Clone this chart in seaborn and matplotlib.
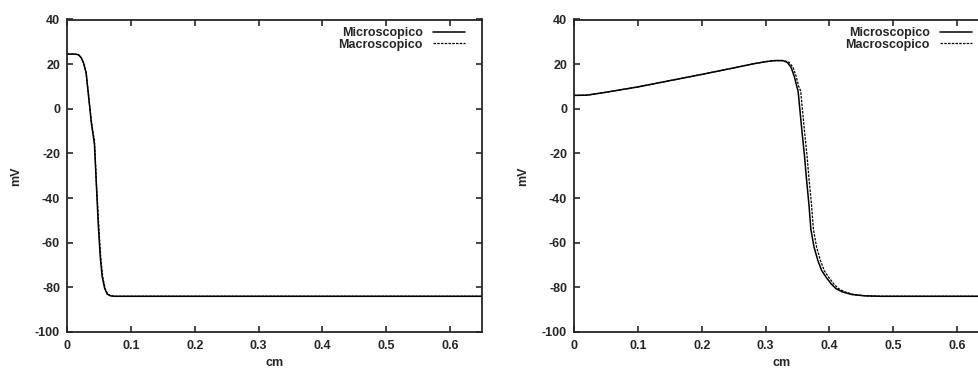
import numpy as np
import pandas as pd
import seaborn as sns
import matplotlib
matplotlib.use("Agg")
import matplotlib.pyplot as plt
from matplotlib.ticker import FixedLocator, FuncFormatter

# ---- data -------------------------------------------------------------
series_names = ["Microscopico", "Macroscopico"]

# left panel: membrane potential along the fibre (cm -> mV)
left_micro_x = [0.0, 0.012, 0.018, 0.022, 0.026, 0.030, 0.034, 0.038, 0.041, 0.043,
                0.045, 0.047, 0.049, 0.052, 0.055, 0.059, 0.063, 0.068, 0.075, 0.65]
left_micro_v = [24.5, 24.5, 24.2, 23.0, 20.5, 16.0, 5.0, -6.0, -12.0, -16.0,
                -28.0, -40.0, -52.0, -66.0, -75.0, -80.5, -83.0, -83.8, -84.0, -84.0]
left_macro_x = [0.0, 0.012, 0.018, 0.022, 0.026, 0.030, 0.034, 0.038, 0.041, 0.043,
                0.044, 0.046, 0.048, 0.050, 0.053, 0.056, 0.060, 0.064, 0.069, 0.076, 0.65]
left_macro_v = [24.5, 24.5, 24.2, 23.0, 20.5, 16.0, 5.5, -5.0, -11.0, -14.0,
                -20.0, -33.0, -43.0, -54.0, -67.0, -75.5, -80.8, -83.1, -83.8, -84.0, -84.0]

# right panel
right_micro_x = [0.0, 0.02, 0.05, 0.10, 0.15, 0.20, 0.25, 0.28, 0.30, 0.315, 0.327,
                 0.334, 0.340, 0.345, 0.349, 0.351, 0.354, 0.357, 0.361, 0.364, 0.368,
                 0.371, 0.376, 0.382, 0.388, 0.395, 0.403, 0.410, 0.420, 0.435, 0.455,
                 0.480, 0.65]
right_micro_v = [6.0, 6.1, 7.4, 9.8, 12.6, 15.4, 18.3, 20.1, 21.1, 21.6, 21.6,
                 20.8, 18.6, 14.5, 10.0, 8.0, -1.0, -10.0, -21.0, -31.0, -43.0,
                 -54.0, -62.0, -68.0, -72.5, -75.5, -78.5, -80.5, -82.0, -83.2, -83.8,
                 -84.0, -84.0]
right_macro_x = [0.0, 0.02, 0.05, 0.10, 0.15, 0.20, 0.25, 0.28, 0.30, 0.315, 0.329,
                 0.337, 0.343, 0.348, 0.352, 0.355, 0.358, 0.361, 0.365, 0.368, 0.372,
                 0.375, 0.380, 0.386, 0.392, 0.399, 0.407, 0.414, 0.424, 0.438, 0.457,
                 0.482, 0.65]
right_macro_v = [6.0, 6.1, 7.4, 9.8, 12.6, 15.4, 18.3, 20.1, 21.1, 21.6, 21.6,
                 20.8, 18.6, 14.5, 10.0, 8.0, -1.0, -10.0, -21.0, -31.0, -43.0,
                 -54.0, -62.0, -68.0, -72.5, -75.5, -78.5, -80.5, -82.0, -83.2, -83.8,
                 -84.0, -84.0]

x_ticks = [0, 0.1, 0.2, 0.3, 0.4, 0.5, 0.6]
y_ticks = [-100, -80, -60, -40, -20, 0, 20, 40]
x_label = "cm"
y_label = "mV"

# ---- style ------------------------------------------------------------
sns.set_style("ticks")
plt.rcParams["font.family"] = ["Liberation Sans", "DejaVu Sans"]
plt.rcParams["font.weight"] = "bold"
plt.rcParams["font.size"] = 9
plt.rcParams["axes.linewidth"] = 1.3

fig = plt.figure(figsize=(9.79, 3.69), dpi=100)
W, H = 979, 369
ax_w = 415 / W
ax_h = (332 - 19.5) / H
ax_left = fig.add_axes([67 / W, 37 / H, ax_w, ax_h])
ax_right = fig.add_axes([574 / W, 37 / H, ax_w, ax_h])

dash_style = (0, (2.0, 1.0))

panels = [
    (ax_left, left_micro_x, left_micro_v, left_macro_x, left_macro_v),
    (ax_right, right_micro_x, right_micro_v, right_macro_x, right_macro_v),
]

for ax, mx, mv, Mx, Mv in panels:
    sns.lineplot(x=mx, y=mv, ax=ax, color="black", lw=1.1, sort=False,
                 label=series_names[0])
    sns.lineplot(x=Mx, y=Mv, ax=ax, color="black", lw=0.9, sort=False,
                 linestyle=dash_style, label=series_names[1])

    ax.set_xlim(0, 0.65)
    ax.set_ylim(-100, 40)
    ax.xaxis.set_major_locator(FixedLocator(x_ticks))
    ax.yaxis.set_major_locator(FixedLocator(y_ticks))
    ax.xaxis.set_major_formatter(FuncFormatter(lambda v, p: "%g" % v))
    ax.yaxis.set_major_formatter(FuncFormatter(lambda v, p: "%g" % v))
    ax.tick_params(axis="both", direction="in", length=4, width=1.2,
                   top=True, right=True, labelsize=9)
    ax.tick_params(axis="x", pad=5.5)
    ax.tick_params(axis="y", pad=5)
    for lab in ax.get_xticklabels() + ax.get_yticklabels():
        lab.set_fontweight("bold")
    for sp in ax.spines.values():
        sp.set_visible(True)
        sp.set_linewidth(1.3)

    ax.set_xlabel(x_label, fontsize=9, fontweight="bold", va="center")
    ax.set_ylabel(y_label, fontsize=9, fontweight="bold", va="center")
    ax.xaxis.set_label_coords(0.5, -0.1)
    ax.yaxis.set_label_coords(-0.122, 0.5)

    leg = ax.legend(loc="upper right", bbox_to_anchor=(0.96, 0.975),
                    frameon=False, markerfirst=False, borderpad=0,
                    borderaxespad=0, handlelength=2.6, handletextpad=0.8,
                    labelspacing=-0.05, prop={"weight": "bold", "size": 9})

fig.savefig("out.png", dpi=100)
